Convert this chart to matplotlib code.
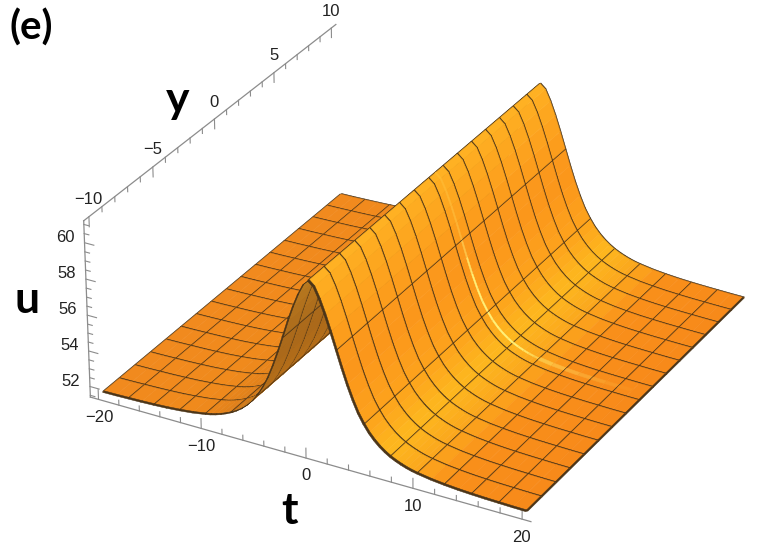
import numpy as np
import matplotlib
matplotlib.use("Agg")
import matplotlib.pyplot as plt
from mpl_toolkits.mplot3d.art3d import Poly3DCollection

# ridge profile, same for every y
t_vals = [-20, -18.75, -17.5, -16.25, -15, -13.75, -12.5, -11.25, -10, -9.5, -9, -8.5, -8,
          -7.5, -7, -6.5, -6, -5.5, -5, -4.5, -4, -3.5, -3, -2.5, -2, -1.5, -1, -0.5, 0,
          0.5, 1, 1.5, 2, 2.5, 3, 3.5, 4, 4.5, 5, 5.5, 6, 6.5, 7, 7.5, 8, 8.5, 9, 9.5, 10,
          11.25, 12.5, 13.75, 15, 16.25, 17.5, 18.75, 20]
u_vals = [51.6, 51.61, 51.63, 51.65, 51.68, 51.72, 51.78, 51.86, 51.98, 52.04, 52.12, 52.22, 52.34,
          52.48, 52.65, 52.86, 53.12, 53.44, 53.85, 54.35, 54.95, 55.7, 56.55, 57.45, 58.4, 59.25, 60.0, 60.6, 60.9,
          60.65, 60.05, 59.3, 58.45, 57.55, 56.65, 55.8, 55.05, 54.4, 53.9, 53.48, 53.15, 52.88, 52.66, 52.48, 52.34, 52.22, 52.12, 52.04, 51.98,
          51.86, 51.78, 51.72, 51.68, 51.65, 51.63, 51.61, 51.6]
y_mesh = [-10, -8.75, -7.5, -6.25, -5, -3.75, -2.5, -1.25, 0, 1.25, 2.5, 3.75, 5, 6.25, 7.5, 8.75, 10]
t_mesh = [-20, -17.5, -15, -12.5, -10, -7.5, -5, -2.5, 0, 2.5, 5, 7.5, 10, 12.5, 15, 17.5, 20]

t_major = [-20, -10, 0, 10, 20]
t_minor = [-18, -16, -14, -12, -8, -6, -4, -2, 2, 4, 6, 8, 12, 14, 16, 18]
y_major = [-10, -5, 0, 5, 10]
y_minor = [-9, -8, -7, -6, -4, -3, -2, -1, 1, 2, 3, 4, 6, 7, 8, 9]
u_major = [52, 54, 56, 58, 60]
u_minor = [51.5, 52.5, 53, 53.5, 54.5, 55, 55.5, 56.5, 57, 57.5, 58.5, 59, 59.5, 60.5, 61]

# colour along t, lit side on the right, shaded side left of the crest
stops_t = [-20, -11, -8, -6, -3, -0.6, 0, 1.5, 3, 5, 7, 10, 13, 20]
stops_c = ['#f18a1e', '#f08a1c', '#e0801a', '#bf7317', '#a9681a', '#b87a20', '#ffb324',
           '#fda41e', '#fb951b', '#fda31c', '#fdb81e', '#fba51d', '#f98f1a', '#f78a1a']
rgb_stops = np.array([matplotlib.colors.to_rgb(c) for c in stops_c])


def shade(t):
    return tuple(np.interp(t, stops_t, rgb_stops[:, k]) for k in range(3))


tlo, thi = -20.8, 20.8
ylo, yhi = -10.4, 10.4
ulo, uhi = 51.4, 61.2
W, H = 766, 546
mesh_col = '#4a3418'
axis_col = '#8c8c8c'

fig = plt.figure(figsize=(W / 100, H / 100), dpi=100)
S0 = 500
ax = fig.add_axes([0, 0, S0 / W, S0 / H], projection='3d', computed_zorder=False)
ax.view_init(28.59, -61.28, 0.07)
ax.set_proj_type('persp', focal_length=1.3367)
ax.set_box_aspect((1, 1.007, 0.402))
ax.set_xlim(tlo, thi, view_margin=0)
ax.set_ylim(ylo, yhi, view_margin=0)
ax.set_zlim(ulo, uhi, view_margin=0)
ax.set_axis_off()

# scale and place the axes so the projection lands where it does in the reference
ax.apply_aspect()
p0 = ax.transData.transform((0, 0))
p1 = ax.transData.transform((1, 1))
k = 3819.73 / (p1[0] - p0[0])
ax.set_position([(428.65 - p0[0] * k) / W, (H - 260.99 - p0[1] * k) / H, S0 * k / W, S0 * k / H])

verts, cols = [], []
# surface cells
for i in range(len(t_vals) - 1):
    c = shade(0.5 * (t_vals[i] + t_vals[i + 1]))
    for j in range(len(y_mesh) - 1):
        verts.append([(t_vals[i], y_mesh[j], u_vals[i]), (t_vals[i + 1], y_mesh[j], u_vals[i + 1]),
                      (t_vals[i + 1], y_mesh[j + 1], u_vals[i + 1]), (t_vals[i], y_mesh[j + 1], u_vals[i])])
        cols.append(c)
# highlight running down the slope
for i in range(len(t_vals) - 1):
    tm = 0.5 * (t_vals[i] + t_vals[i + 1])
    if 0 < tm < 19:
        a = np.interp(tm, [0.5, 2.5, 3.5, 8, 10, 13, 19], [0.15, 0.3, 1, 1, 0.45, 0.3, 0])
        base = np.array(shade(tm))
        c = tuple(base + a * (np.array(matplotlib.colors.to_rgb('#fff27a')) - base))
        dw = 0.05 if tm < 10 else 0.12
        verts.append([(t_vals[i], 0.6 - dw, u_vals[i]), (t_vals[i + 1], 0.6 - dw, u_vals[i + 1]),
                      (t_vals[i + 1], 0.6 + dw, u_vals[i + 1]), (t_vals[i], 0.6 + dw, u_vals[i])])
        cols.append(c)
# mesh as thin strips so the crest hides them properly
dy, dt = 0.07, 0.09
for y in y_mesh:
    for i in range(len(t_vals) - 1):
        verts.append([(t_vals[i], y - dy, u_vals[i]), (t_vals[i + 1], y - dy, u_vals[i + 1]),
                      (t_vals[i + 1], y + dy, u_vals[i + 1]), (t_vals[i], y + dy, u_vals[i])])
        cols.append(mesh_col)
for t in t_mesh:
    u = u_vals[t_vals.index(t)]
    for j in range(len(y_mesh) - 1):
        verts.append([(t - dt, y_mesh[j], u), (t + dt, y_mesh[j], u),
                      (t + dt, y_mesh[j + 1], u), (t - dt, y_mesh[j + 1], u)])
        cols.append(mesh_col)

surf = Poly3DCollection(verts, facecolors=cols, edgecolors=cols, linewidths=0.35, zsort='average', zorder=2)
ax.add_collection3d(surf, autolim=False)

# box edges and ticks
ax.plot([tlo, thi], [ylo, ylo], [ulo, ulo], color=axis_col, lw=0.9, zorder=1)
ax.plot([tlo, tlo], [ylo, yhi], [uhi, uhi], color=axis_col, lw=0.9, zorder=1)
ax.plot([tlo, tlo], [ylo, ylo], [ulo, uhi], color=axis_col, lw=0.9, zorder=1)
for t in t_major + t_minor:
    ax.plot([t, t], [ylo, ylo], [ulo, ulo + (0.55 if t in t_major else 0.28)], color=axis_col, lw=0.8, zorder=1)
for y in y_major + y_minor:
    ax.plot([tlo, tlo], [y, y], [uhi, uhi - (0.55 if y in y_major else 0.28)], color=axis_col, lw=0.8, zorder=1)
for u in u_major + u_minor:
    ax.plot([tlo, tlo + (0.9 if u in u_major else 0.45)], [ylo, ylo], [u, u], color=axis_col, lw=0.8, zorder=1)

tick_font = dict(family='Liberation Sans', fontsize=12, color='#222222', ha='center', va='center', zorder=3)
for t in t_major:
    ax.text(t, ylo, ulo - 1.0, str(t).replace('-', '\u2212'), **tick_font)
for y in y_major:
    ax.text(tlo, y, uhi + 0.95, str(y).replace('-', '\u2212'), **tick_font)
for u in u_major:
    ax.text(tlo - 1.9, ylo, u, str(u), **tick_font)

lab = dict(family='Lato', fontweight='bold', color='black', ha='center', va='center')
fig.text(31 / W, 1 - 28 / H, '(e)', fontsize=29, **lab)
fig.text(178 / W, 1 - 100 / H, 'y', fontsize=32, **lab)
fig.text(27 / W, 1 - 300 / H, 'u', fontsize=32, **lab)
fig.text(289 / W, 1 - 511 / H, 't', fontsize=32, **lab)

fig.savefig('out.png', dpi=100, facecolor='white')
